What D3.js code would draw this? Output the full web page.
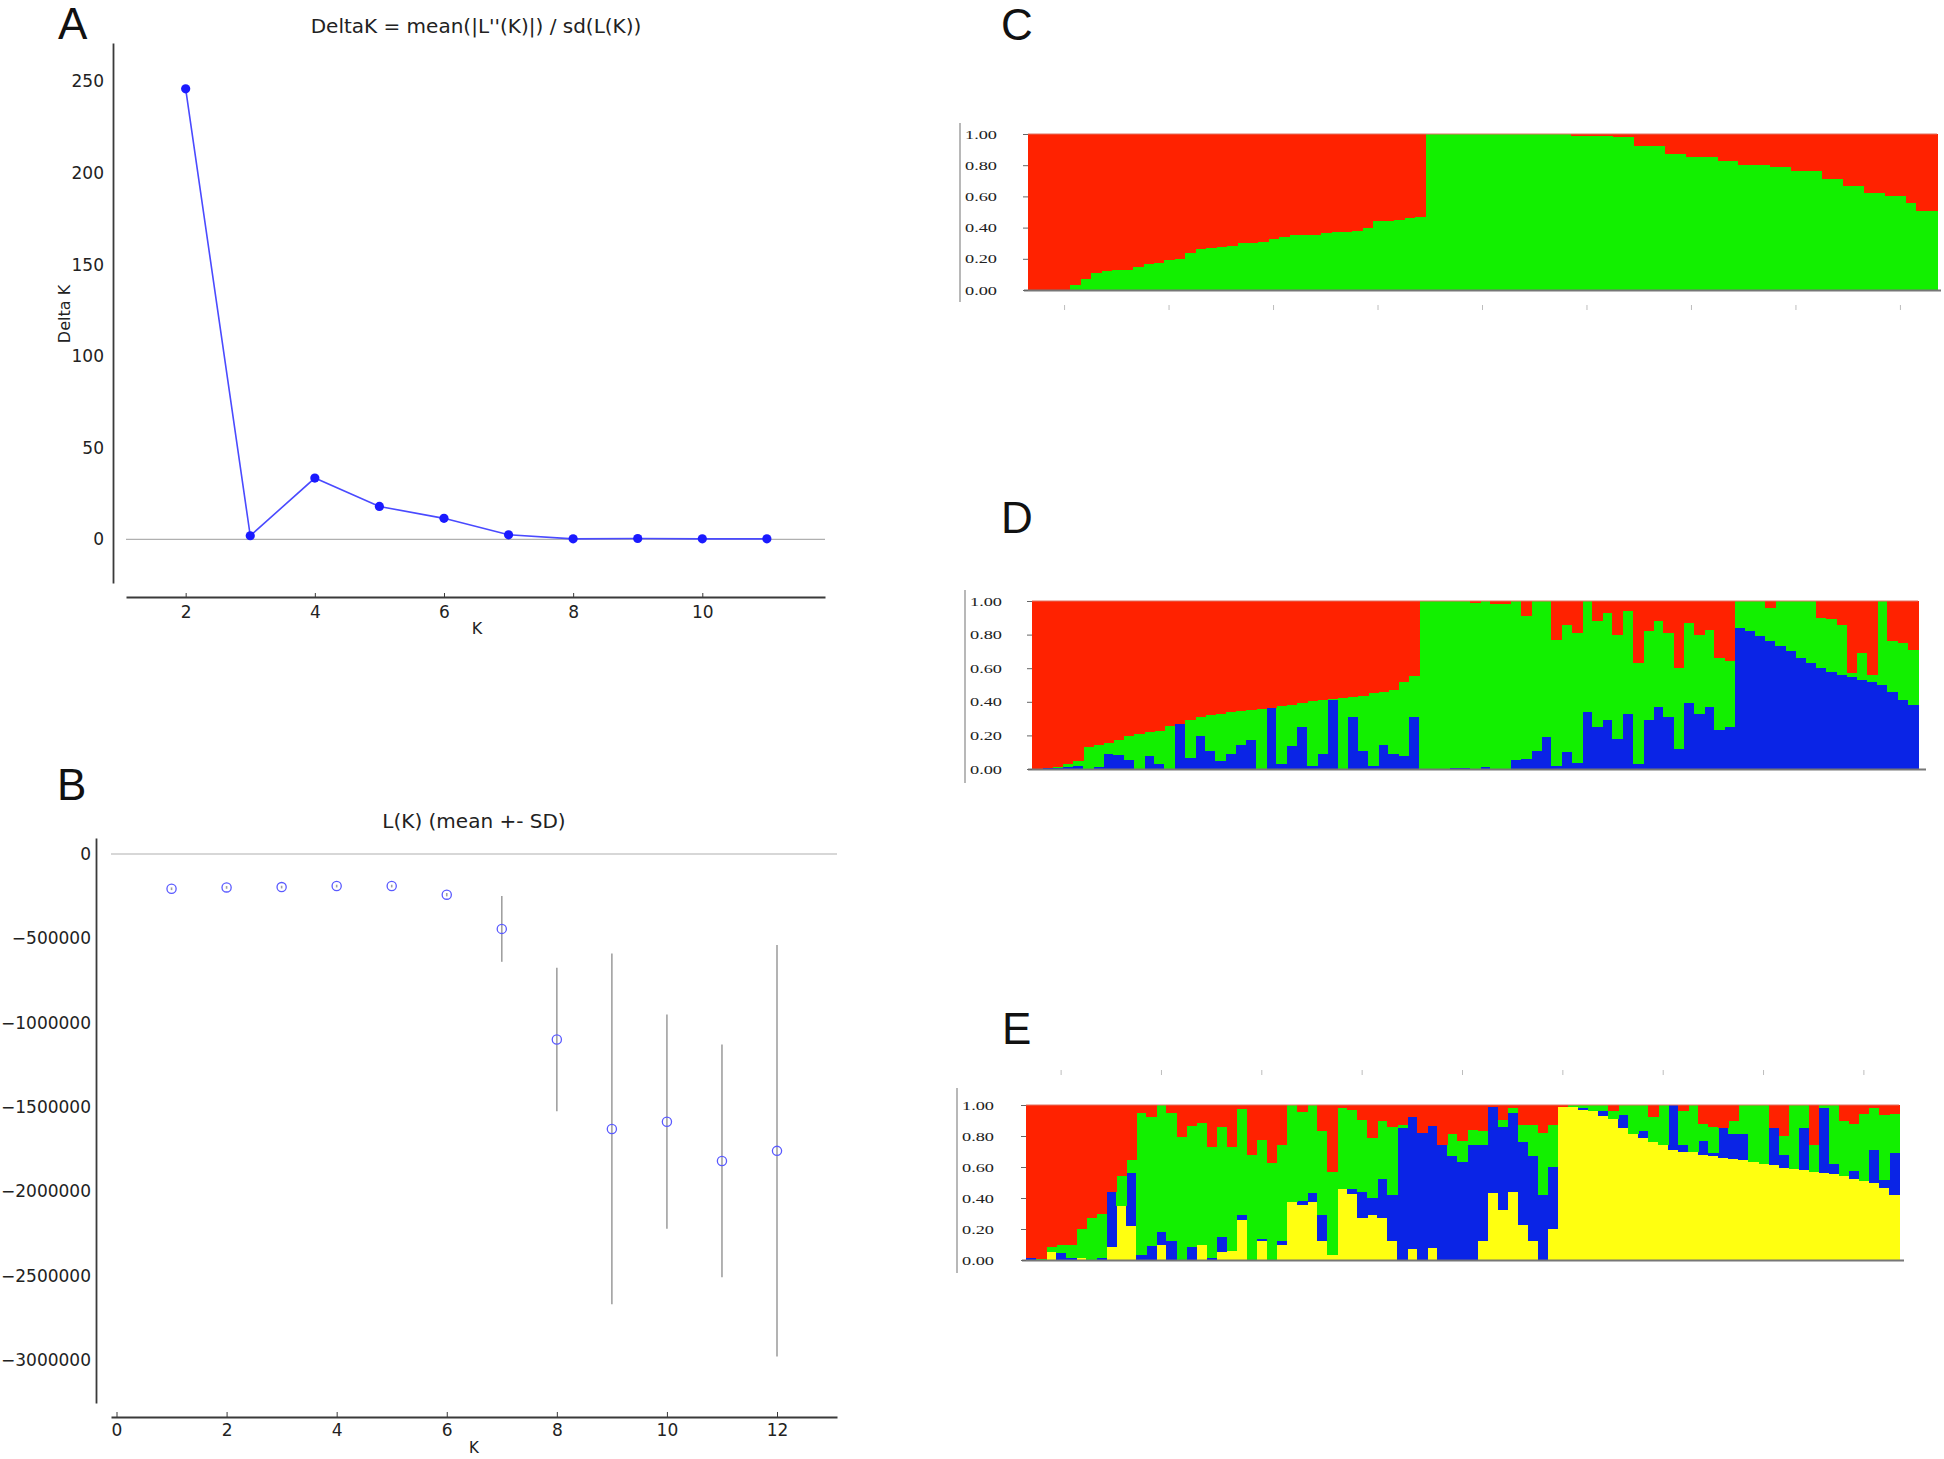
<!DOCTYPE html>
<html><head><meta charset="utf-8">
<script src="https://cdn.jsdelivr.net/npm/d3@7"></script>
<style>body{margin:0;background:#fff}</style>
</head><body>
<svg id="fig" width="1944" height="1459" xmlns="http://www.w3.org/2000/svg"></svg>
<script>
// ---------------- DATA ----------------
// Panel A: Delta K
const deltaK_K = [2,3,4,5,6,7,8,9,10,11];
const deltaK_val = [246,2,33.5,18,11.5,2.5,0.3,0.5,0.3,0.3];
const A_xTicks = [2,4,6,8,10];
const A_yTicks = [0,50,100,150,200,250];

// Panel B: L(K) mean +- SD
const LK_K = [1,2,3,4,5,6,7,8,9,10,11,12];
const LK_mean = [-206000,-198000,-196000,-190000,-190000,-241000,-444000,-1100000,-1630000,-1587000,-1820000,-1760000];
const LK_sd = [8000,8000,8000,8000,8000,10000,195000,425000,1040000,635000,690000,1220000];
const B_xTicks = [0,2,4,6,8,10,12];
const B_yTicks = [0,-500000,-1000000,-1500000,-2000000,-2500000,-3000000];

// Structure plots (87 individuals)
const Q_ticks = [0,0.2,0.4,0.6,0.8,1.0];
const indTicks = [3,13,23,33,43,53,63,73,83];

// Panel C: K = 2
const C_green = [0,0,0,0,0.03,0.07,0.11,0.12,0.13,0.13,0.15,0.165,0.17,0.19,0.20,0.24,0.265,0.27,0.275,0.28,0.30,0.30,0.31,0.33,0.34,0.35,0.35,0.355,0.365,0.37,0.375,0.38,0.40,0.44,0.445,0.45,0.46,0.47,
 1,1,1,1,1,1,1,1,1,1,1,1,1,1,
 0.99,0.99,0.99,0.99,0.98,0.98,0.92,0.92,0.92,0.875,0.875,0.855,0.855,0.855,0.83,0.83,0.80,0.80,0.80,0.79,0.79,0.765,0.765,0.765,0.71,0.71,0.665,0.665,0.625,0.625,0.60,0.60,0.56,0.505,0.505];
const C_red = [1,1,1,1,0.97,0.93,0.89,0.88,0.87,0.87,0.85,0.835,0.83,0.81,0.80,0.76,0.735,0.73,0.725,0.72,0.70,0.70,0.69,0.67,0.66,0.65,0.65,0.645,0.635,0.63,0.625,0.62,0.60,0.56,0.555,0.55,0.54,0.53,
 0,0,0,0,0,0,0,0,0,0,0,0,0,0,
 0.01,0.01,0.01,0.01,0.02,0.02,0.08,0.08,0.08,0.125,0.125,0.145,0.145,0.145,0.17,0.17,0.20,0.20,0.20,0.21,0.21,0.235,0.235,0.235,0.29,0.29,0.335,0.335,0.375,0.375,0.40,0.40,0.44,0.495,0.495];

// Panel D: K = 3
const D_blue = [0,0.005,0.005,0.01,0.02,0,0.01,0.09,0.085,0.055,0,0.08,0.03,0,0.27,0.065,0.195,0.105,0.05,0.09,0.145,0.175,0,0.365,0.03,0.135,0.25,0.015,0.09,0.41,0,0.31,0.105,0.015,0.145,0.09,0.08,0.31,
 0,0,0,0.005,0.005,0,0.01,0,0,0.055,0.06,0.105,0.19,0.02,0.10,0.035,0.34,0.25,0.29,0.18,0.33,0.03,0.29,0.37,0.31,0.12,0.39,0.33,0.37,0.23,0.25,
 0.84,0.82,0.79,0.76,0.73,0.70,0.66,0.63,0.60,0.58,0.56,0.55,0.53,0.52,0.50,0.46,0.41,0.38];
const D_green = [0,0,0.005,0.02,0.03,0.13,0.13,0.065,0.09,0.14,0.21,0.14,0.195,0.255,0,0.225,0.115,0.215,0.28,0.25,0.20,0.175,0.36,0,0.345,0.245,0.14,0.39,0.32,0.005,0.42,0.12,0.33,0.435,0.315,0.38,0.44,0.245,
 1,1,1,0.995,0.995,0.99,0.99,0.98,0.985,0.945,0.85,0.895,0.81,0.75,0.76,0.775,0.66,0.63,0.64,0.62,0.61,0.60,0.53,0.51,0.50,0.48,0.48,0.47,0.46,0.43,0.39,
 0.16,0.18,0.21,0.20,0.27,0.30,0.34,0.37,0.30,0.31,0.30,0.02,0.16,0.04,0.50,0.30,0.34,0.33];
const D_red = [1,0.995,0.99,0.97,0.95,0.87,0.86,0.845,0.825,0.805,0.79,0.78,0.775,0.745,0.73,0.71,0.69,0.68,0.67,0.66,0.655,0.65,0.64,0.635,0.625,0.62,0.61,0.595,0.59,0.585,0.58,0.57,0.565,0.55,0.54,0.53,0.48,0.445,
 0,0,0,0,0,0.01,0,0.02,0.015,0,0.09,0,0,0.23,0.14,0.19,0,0.12,0.07,0.20,0.06,0.37,0.18,0.12,0.19,0.40,0.13,0.20,0.17,0.34,0.36,
 0,0,0,0.04,0,0,0,0,0.10,0.11,0.14,0.43,0.31,0.44,0,0.24,0.25,0.29];

// Panel E: K = 4
const E_yellow = [0,0,0.05,0,0,0.01,0,0,0.085,0.35,0.22,0,0,0.10,0,0,0,0.097,0,0.05,0.055,0.26,0,0.125,0,0.10,0.375,0.355,0.375,0.12,0.03,0.455,0.425,0.27,0.29,0.27,0.12,0,0.07,0,0.075,0,0,0,0,0.12,0.43,0.32,0.44,0.225,0.12,0,0.2,
 0.99,0.985,0.97,0.96,0.93,0.91,0.85,0.81,0.785,0.76,0.74,0.71,0.70,0.695,0.68,0.67,0.66,0.65,0.645,0.635,0.62,0.61,0.595,0.585,0.58,0.57,0.56,0.555,0.545,0.525,0.51,0.495,0.465,0.42];
const E_blue = [0.01,0,0,0.045,0.015,0,0,0.01,0.355,0,0.34,0.03,0.09,0.08,0.12,0,0.085,0,0.01,0.10,0,0.03,0,0.01,0,0.02,0,0.025,0.055,0.17,0,0,0.03,0.17,0.11,0.25,0.30,0.85,0.85,0.82,0.79,0.74,0.67,0.635,0.74,0.62,0.56,0.54,0.51,0.535,0.55,0.42,0.40,
 0,0,0.01,0,0.03,0,0.085,0,0.05,0,0,0.29,0.04,0,0.09,0.02,0.19,0.16,0.17,0,0,0.24,0.085,0,0.27,0,0.42,0.065,0,0.05,0,0.215,0.05,0.27];
const E_green = [0,0.005,0.035,0.05,0.085,0.19,0.27,0.285,0,0.19,0.085,0.92,0.83,0.82,0.83,0.795,0.78,0.785,0.72,0.71,0.675,0.685,0.68,0.64,0.625,0.62,0.625,0.575,0.57,0.54,0.54,0.525,0.515,0.465,0.39,0.38,0.44,0.02,0,0,0,0,0.14,0.13,0.10,0.09,0,0.045,0.03,0.11,0.20,0.40,0.27,
 0,0.015,0.02,0.04,0.04,0.05,0.065,0.19,0.165,0.16,0.26,0,0.22,0.305,0.11,0.17,0,0.085,0.185,0.365,0.38,0,0.12,0.415,0.15,0.17,0.02,0.38,0.35,0.305,0.43,0.27,0.42,0.25];
const E_red = [0.99,0.995,0.915,0.905,0.90,0.80,0.73,0.705,0.56,0.46,0.355,0.05,0.08,0,0.05,0.205,0.135,0.118,0.27,0.14,0.27,0.025,0.32,0.225,0.375,0.26,0,0.045,0,0.17,0.43,0.02,0.03,0.095,0.21,0.10,0.14,0.13,0.08,0.18,0.135,0.26,0.19,0.235,0.16,0.17,0.01,0.095,0.02,0.13,0.13,0.18,0.13,
 0.01,0,0,0,0,0.04,0,0,0,0.08,0,0,0.04,0,0.12,0.14,0.15,0.105,0,0,0,0.15,0.20,0,0,0.26,0,0,0.105,0.12,0.06,0.02,0.065,0.06];

// ---------------- DRAWING ----------------
const svg = d3.select('#fig');
const SANS = 'DejaVu Sans, sans-serif';
const AX = '#3a3a3a';
const COLORS = {red:'#ff2200', green:'#12f000', blue:'#0a24e6', yellow:'#ffff10'};

function letter(txt, x, y){
  svg.append('text').attr('x',x).attr('y',y).text(txt)
    .attr('font-family','Liberation Sans, Arial, sans-serif').attr('font-size',44).attr('fill','#111');
}
letter('A',58,39); letter('B',57,800); letter('C',1001,40); letter('D',1001,533); letter('E',1002,1044);

// ---- Panel A ----
(function(){
  const x = d3.scaleLinear().domain([1.076,11.9]).range([126,825]);
  const y = d3.scaleLinear().domain([-23.8,271]).range([583,43]);
  const g = svg.append('g');
  g.append('text').attr('x',476).attr('y',33).attr('text-anchor','middle')
    .attr('font-family',SANS).attr('font-size',20).attr('fill','#222')
    .text("DeltaK = mean(|L''(K)|) / sd(L(K))");
  g.append('line').attr('x1',126).attr('x2',825).attr('y1',y(0)).attr('y2',y(0)).attr('stroke','#b0b0b0').attr('stroke-width',1.2);
  const ya = g.append('g').attr('transform','translate(113,0)').call(d3.axisLeft(y).tickValues(A_yTicks).tickSize(0).tickPadding(9));
  ya.select('.domain').attr('stroke',AX).attr('stroke-width',1.8);
  ya.selectAll('text').attr('font-family',SANS).attr('font-size',17).attr('fill','#222');
  const xa = g.append('g').attr('transform','translate(0,597)').call(d3.axisBottom(x).tickValues(A_xTicks).tickSizeOuter(0).tickSizeInner(-4).tickPadding(9));
  xa.select('.domain').attr('stroke',AX).attr('stroke-width',2.2);
  xa.selectAll('.tick line').attr('stroke',AX);
  xa.selectAll('text').attr('font-family',SANS).attr('font-size',17).attr('fill','#222');
  g.append('text').attr('x',477).attr('y',634).attr('text-anchor','middle').attr('font-family',SANS).attr('font-size',16).attr('fill','#222').text('K');
  g.append('text').attr('transform','translate(70,314) rotate(-90)').attr('text-anchor','middle').attr('font-family',SANS).attr('font-size',16).attr('fill','#222').text('Delta K');
  const pts = deltaK_K.map((k,i)=>({k, v: deltaK_val[i]}));
  g.append('path').datum(pts).attr('fill','none').attr('stroke','#4a4aff').attr('stroke-width',1.6)
    .attr('d', d3.line().x(d=>x(d.k)).y(d=>y(d.v)));
  g.selectAll('circle.pt').data(pts).join('circle').attr('class','pt')
    .attr('cx',d=>x(d.k)).attr('cy',d=>y(d.v)).attr('r',4.6).attr('fill','#1a1aff');
})();

// ---- Panel B ----
(function(){
  const x = d3.scaleLinear().domain([-0.1,13.09]).range([111,837]);
  const y = d3.scaleLinear().domain([-3255000,95000]).range([1403,838]);
  const g = svg.append('g');
  g.append('text').attr('x',474).attr('y',828).attr('text-anchor','middle')
    .attr('font-family',SANS).attr('font-size',20).attr('fill','#222').text('L(K) (mean +- SD)');
  g.append('line').attr('x1',111).attr('x2',837).attr('y1',y(0)).attr('y2',y(0)).attr('stroke','#b0b0b0').attr('stroke-width',1.2);
  const ya = g.append('g').attr('transform','translate(96,0)').call(d3.axisLeft(y).tickValues(B_yTicks).tickFormat(d3.format('d')).tickSize(0).tickPadding(5));
  ya.select('.domain').attr('stroke',AX).attr('stroke-width',1.8);
  ya.selectAll('text').attr('font-family',SANS).attr('font-size',17).attr('fill','#222');
  const xa = g.append('g').attr('transform','translate(0,1417)').call(d3.axisBottom(x).tickValues(B_xTicks).tickSizeOuter(0).tickSizeInner(-5).tickPadding(7));
  xa.select('.domain').attr('stroke',AX).attr('stroke-width',2.2);
  xa.selectAll('.tick line').attr('stroke',AX);
  xa.selectAll('text').attr('font-family',SANS).attr('font-size',17).attr('fill','#222');
  g.append('text').attr('x',474).attr('y',1453).attr('text-anchor','middle').attr('font-family',SANS).attr('font-size',15).attr('fill','#222').text('K');
  const pts = LK_K.map((k,i)=>({k, m: LK_mean[i], s: LK_sd[i]}));
  g.selectAll('line.err').data(pts).join('line').attr('class','err')
    .attr('x1',d=>x(d.k)).attr('x2',d=>x(d.k)).attr('y1',d=>y(d.m+d.s)).attr('y2',d=>y(d.m-d.s))
    .attr('stroke','#a0a0a0').attr('stroke-width',1.6);
  g.selectAll('circle.pt').data(pts).join('circle').attr('class','pt')
    .attr('cx',d=>x(d.k)).attr('cy',d=>y(d.m)).attr('r',4.6).attr('fill','none').attr('stroke','#5a5aff').attr('stroke-width',1.3);
})();

// ---- Structure plots ----
function structure(cfg){
  const n = cfg.series[0].values.length;
  const rows = d3.range(n).map(i=>{ const r={i}; cfg.series.forEach(s=>r[s.key]=s.values[i]); return r; });
  const keys = cfg.series.map(s=>s.key);
  const stack = d3.stack().keys(keys)(rows);
  const x = d3.scaleBand().domain(d3.range(n)).range([cfg.x0,cfg.x1]).paddingInner(0).paddingOuter(0);
  const y = d3.scaleLinear().domain([0,1]).range([cfg.y1,cfg.y0]).clamp(true);
  const g = svg.append('g');
  stack.forEach(layer=>{
    const col = COLORS[layer.key];
    g.append('g').selectAll('rect').data(layer).join('rect')
      .attr('x',(d,i)=>x(i)).attr('width',x.bandwidth()+0.6)
      .attr('y',d=>y(d[1])).attr('height',d=>Math.max(0,y(d[0])-y(d[1])))
      .attr('fill',col).attr('shape-rendering','crispEdges');
  });
  g.append('line').attr('x1',cfg.x0).attr('x2',cfg.x1).attr('y1',cfg.y0).attr('y2',cfg.y0).attr('stroke','#e07060').attr('stroke-width',1);
  g.append('line').attr('x1',cfg.x0-4).attr('x2',cfg.x1+cfg.ext).attr('y1',cfg.y1+0.5).attr('y2',cfg.y1+0.5).attr('stroke','#777').attr('stroke-width',2);
  g.append('line').attr('x1',cfg.vx).attr('x2',cfg.vx).attr('y1',cfg.vy0).attr('y2',cfg.vy1).attr('stroke','#9a9a9a').attr('stroke-width',1.4);
  const ya = g.append('g').attr('transform',`translate(${cfg.x0},0)`)
    .call(d3.axisLeft(y).tickValues(Q_ticks).tickFormat(d3.format('.2f')).tickSizeInner(5).tickSizeOuter(0).tickPadding(cfg.pad));
  ya.select('.domain').remove();
  ya.selectAll('.tick line').attr('stroke','#666');
  ya.selectAll('text').attr('font-family','Liberation Serif, Times New Roman, serif').attr('font-size',12.5).attr('fill','#222')
    .attr('textLength',32).attr('lengthAdjust','spacingAndGlyphs');
  if(cfg.tickY !== undefined){
    g.selectAll('line.it').data(indTicks).join('line').attr('class','it')
      .attr('x1',d=>x(d)+x.bandwidth()/2).attr('x2',d=>x(d)+x.bandwidth()/2)
      .attr('y1',cfg.tickY).attr('y2',cfg.tickY+5).attr('stroke','#bdbdbd').attr('stroke-width',1);
  }
}

structure({x0:1028,x1:1937,y0:134,y1:290,ext:4,vx:960,vy0:123,vy1:302,pad:26,tickY:305,
  series:[{key:'green',values:C_green},{key:'red',values:C_red}]});
structure({x0:1032,x1:1918,y0:601,y1:769,ext:8,vx:965,vy0:590,vy1:783,pad:25,
  series:[{key:'blue',values:D_blue},{key:'green',values:D_green},{key:'red',values:D_red}]});
structure({x0:1026,x1:1899,y0:1105,y1:1260,ext:5,vx:957,vy0:1088,vy1:1273,pad:27,tickY:1070,
  series:[{key:'yellow',values:E_yellow},{key:'blue',values:E_blue},{key:'green',values:E_green},{key:'red',values:E_red}]});
</script>
</body></html>
